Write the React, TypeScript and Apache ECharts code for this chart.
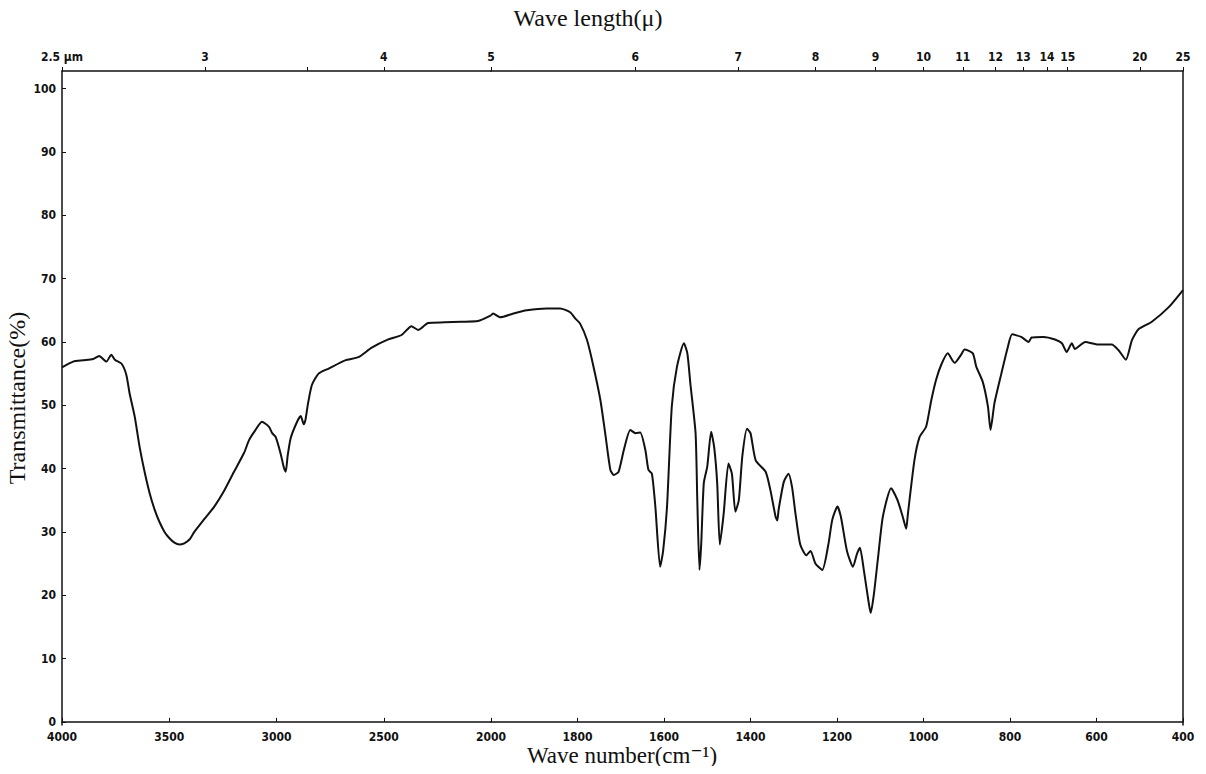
import React, { useEffect, useRef } from "react";
import * as echarts from "echarts";

// Wave number (cm^-1) and transmittance (%)
const wavenumber = [
  4000, 3948, 3901, 3855, 3827, 3793, 3770, 3754, 3723, 3700, 3685, 3661, 3638, 3615, 3592, 3569,
  3546, 3522, 3499, 3476, 3453, 3430, 3406, 3383, 3337, 3290, 3244, 3198, 3151, 3128, 3100, 3068,
  3035, 3020, 3004, 2981, 2966, 2957, 2948, 2934, 2904, 2887, 2873, 2865, 2853, 2835, 2804, 2757,
  2680, 2618, 2556, 2479, 2417, 2371, 2340, 2293, 2216, 2139, 2061, 2000, 1995, 1979, 1948, 1917,
  1871, 1840, 1817, 1805, 1794, 1778, 1763, 1747, 1736, 1724, 1716, 1705, 1693, 1678, 1666, 1655,
  1643, 1636, 1628, 1620, 1609, 1602, 1593, 1582, 1570, 1554, 1546, 1539, 1527, 1523, 1518, 1514,
  1508, 1500, 1491, 1484, 1477, 1471, 1462, 1451, 1443, 1435, 1427, 1419, 1408, 1400, 1388, 1365,
  1354, 1342, 1338, 1335, 1323, 1312, 1304, 1296, 1285, 1271, 1261, 1250, 1234, 1220, 1211, 1199,
  1191, 1177, 1163, 1154, 1147, 1138, 1126, 1122, 1115, 1105, 1094, 1075, 1060, 1048, 1040, 1036,
  1021, 1009, 994, 982, 971, 959, 944, 928, 913, 905, 886, 878, 863, 851, 845, 836,
  820, 805, 795, 774, 757, 750, 723, 696, 680, 669, 657, 650, 626, 596, 565, 549,
  532, 518, 503, 472, 433, 400,
];
const transmittance = [
  56.0, 56.9, 57.1, 57.3, 57.8, 56.9, 58.0, 57.2, 56.6, 54.8, 51.9, 48.2, 43.4, 39.5, 36.2, 33.6,
  31.6, 30.0, 29.0, 28.3, 28.0, 28.2, 28.8, 30.0, 32.0, 34.0, 36.5, 39.5, 42.5, 44.5, 46.0, 47.4,
  46.6, 45.6, 45.0, 42.4, 40.2, 39.5, 42.0, 44.8, 47.4, 48.3, 47.0, 47.7, 50.3, 53.2, 55.0, 55.8,
  57.1, 57.6, 59.1, 60.4, 61.1, 62.5, 61.9, 63.0, 63.1, 63.2, 63.3, 64.2, 64.5, 63.9, 64.5, 65.0,
  65.3, 65.3, 64.7, 63.7, 62.9, 60.3, 56.1, 50.8, 45.6, 39.8, 39.0, 39.5, 42.9, 46.1, 45.6, 45.7,
  42.9, 39.8, 39.2, 34.0, 24.5, 27.0, 34.0, 49.8, 56.1, 59.8, 58.2, 53.4, 45.6, 35.0, 24.0, 28.0,
  37.7, 40.3, 45.8, 43.4, 37.7, 28.0, 32.9, 40.8, 39.2, 33.2, 35.0, 41.9, 46.3, 45.6, 41.3, 39.5,
  36.6, 32.4, 31.8, 33.5, 37.9, 39.2, 37.1, 32.9, 28.0, 26.3, 27.0, 25.0, 24.0, 28.0, 31.9, 34.0,
  32.4, 27.0, 24.5, 26.5, 27.5, 24.0, 18.5, 17.2, 20.0, 26.0, 32.4, 36.9, 35.0, 32.4, 30.5, 32.9,
  41.3, 45.0, 46.6, 50.8, 54.0, 56.4, 58.2, 56.7, 58.0, 58.8, 58.2, 56.1, 53.7, 49.8, 46.1, 50.3,
  55.0, 59.2, 61.2, 60.8, 60.0, 60.7, 60.8, 60.4, 59.8, 58.4, 59.8, 58.9, 60.0, 59.6, 59.6, 58.7,
  57.2, 60.3, 62.0, 63.2, 65.5, 68.2,
];

// Axis tick labels
const bottomTicksHigh = [4000, 3500, 3000, 2500, 2000];
const bottomTicksLow = [1800, 1600, 1400, 1200, 1000, 800, 600, 400];
const topMicronsHigh = [2.5, 3, 4, 5];
const topMicronsHighMinor = [3.5];
const topMicronsLow = [6, 7, 8, 9, 10, 11, 12, 13, 14, 15, 20, 25];
const yTicks = [0, 10, 20, 30, 40, 50, 60, 70, 80, 90, 100];

const LABEL_FONT = "'Liberation Sans Narrow', 'DejaVu Sans Condensed', 'Liberation Sans', sans-serif";
const SERIF = "'Liberation Serif', 'DejaVu Serif', serif";

export default function App() {
  const ref = useRef<HTMLDivElement>(null);

  useEffect(() => {
    if (!ref.current) return;
    const chart = echarts.init(ref.current, null, { renderer: "svg" });

    const high: number[][] = [];
    const low: number[][] = [];
    wavenumber.forEach((w, i) => {
      if (w >= 2000) high.push([w, transmittance[i]]);
      if (w <= 2000) low.push([w, transmittance[i]]);
    });

    const toWn = (m: number) => 10000 / m;
    const micronLabel = (v: number) => {
      const l = Math.round((10000 / v) * 10) / 10;
      return l === 2.5 ? "2.5 μm" : String(l);
    };
    const plain = (v: number) => String(Math.round(v));

    const axisLine = { show: true, lineStyle: { color: "#111", width: 1.5 } };
    const labelStyle = {
      color: "#111",
      fontFamily: LABEL_FONT,
      fontWeight: "bold" as const,
      fontSize: 12,
    };

    const Y_MIN = -0.5;
    const Y_MAX = 102.8;

    chart.setOption({
      animation: false,
      backgroundColor: "#fff",
      grid: [
        { left: 62, top: 71, width: 429, bottom: 49, containLabel: false },
        { left: 491, top: 71, right: 23, bottom: 49, containLabel: false },
      ],
      xAxis: [
        {
          type: "value", gridIndex: 0, position: "bottom", min: 2000, max: 4000, inverse: true,
          axisLine, splitLine: { show: false },
          axisTick: { inside: true, length: 4, customValues: bottomTicksHigh, lineStyle: { color: "#111" } },
          axisLabel: { ...labelStyle, margin: 6, customValues: bottomTicksHigh, formatter: plain },
        },
        {
          type: "value", gridIndex: 1, position: "bottom", min: 400, max: 2000, inverse: true,
          axisLine, splitLine: { show: false },
          axisTick: { inside: true, length: 4, customValues: bottomTicksLow, lineStyle: { color: "#111" } },
          axisLabel: { ...labelStyle, margin: 6, customValues: bottomTicksLow, formatter: plain },
        },
        {
          type: "value", gridIndex: 0, position: "top", min: 2000, max: 4000, inverse: true,
          axisLine, splitLine: { show: false },
          axisTick: {
            inside: false, length: 4, lineStyle: { color: "#111" },
            customValues: [...topMicronsHigh, ...topMicronsHighMinor].map(toWn),
          },
          axisLabel: { ...labelStyle, margin: 8, customValues: topMicronsHigh.map(toWn), formatter: micronLabel },
        },
        {
          type: "value", gridIndex: 1, position: "top", min: 400, max: 2000, inverse: true,
          axisLine, splitLine: { show: false },
          axisTick: { inside: false, length: 4, lineStyle: { color: "#111" }, customValues: topMicronsLow.map(toWn) },
          axisLabel: { ...labelStyle, margin: 8, customValues: topMicronsLow.map(toWn), formatter: micronLabel },
        },
      ],
      yAxis: [
        {
          type: "value", gridIndex: 0, position: "left", min: Y_MIN, max: Y_MAX,
          axisLine, splitLine: { show: false },
          axisTick: { inside: true, length: 4, customValues: yTicks, lineStyle: { color: "#111" } },
          axisLabel: { ...labelStyle, margin: 6, customValues: yTicks, formatter: plain },
          name: "Transmittance(%)",
          nameLocation: "middle",
          nameGap: 33,
          nameTextStyle: { fontFamily: SERIF, fontSize: 24, color: "#111" },
        },
        {
          type: "value", gridIndex: 1, position: "right", min: Y_MIN, max: Y_MAX,
          axisLine, splitLine: { show: false },
          axisTick: { show: false },
          axisLabel: { show: false },
        },
      ],
      graphic: [
        {
          type: "text", x: 588, y: 18,
          style: {
            text: "Wave length(μ)", fontFamily: SERIF, fontSize: 24, fill: "#111",
            textAlign: "center", textVerticalAlign: "middle", align: "center", verticalAlign: "middle",
          },
        },
        {
          type: "text", x: 622, y: 755,
          style: {
            text: "Wave number(cm⁻¹)", fontFamily: SERIF, fontSize: 23, fill: "#111",
            textAlign: "center", textVerticalAlign: "middle", align: "center", verticalAlign: "middle",
          },
        },
      ],
      series: [
        {
          type: "line", xAxisIndex: 0, yAxisIndex: 0, data: high, showSymbol: false, smooth: 0.2,
          lineStyle: { color: "#111", width: 2 }, silent: true,
        },
        {
          type: "line", xAxisIndex: 1, yAxisIndex: 1, data: low, showSymbol: false, smooth: 0.2,
          lineStyle: { color: "#111", width: 2 }, silent: true,
        },
      ],
    });

    return () => chart.dispose();
  }, []);

  return <div ref={ref} style={{ width: 1206, height: 774, margin: -8 }} />;
}
